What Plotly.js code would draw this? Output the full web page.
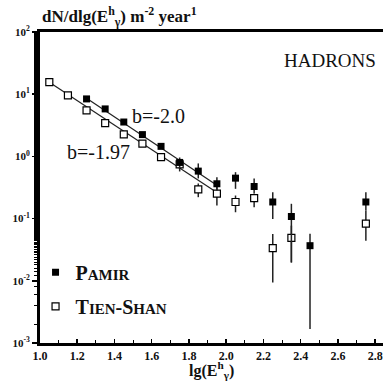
<!DOCTYPE html>
<html>
<head>
<meta charset="utf-8">
<script src="https://cdn.plot.ly/plotly-3.0.1.min.js"></script>
<style>
  html, body { margin: 0; padding: 0; background: #fff; }
  #chart { width: 383px; height: 382px; }
</style>
</head>
<body>
<div id="chart"></div>
<script>
// Hadron spectra, lg(E) bins
const pamirX  = [1.25, 1.35, 1.45, 1.55, 1.65, 1.75, 1.85, 1.95, 2.05, 2.15, 2.25, 2.35, 2.45, 2.75];
const pamirY  = [8.4, 5.8, 3.57, 2.24, 1.45, 0.80, 0.58, 0.363, 0.447, 0.328, 0.185, 0.108, 0.0367, 0.185];
const pamirHi = [null, null, null, null, null, 0.96, 0.771, 0.463, 0.558, 0.442, 0.265, 0.173, 0.0573, 0.265];
const pamirLo = [null, null, null, null, null, 0.64, 0.442, 0.283, 0.301, 0.253, 0.0989, 0.0197, 0.00168, 0.1346];

const tsX  = [1.05, 1.15, 1.25, 1.35, 1.45, 1.55, 1.65, 1.75, 1.85, 1.95, 2.05, 2.15, 2.25, 2.35, 2.75];
const tsY  = [15.6, 9.6, 5.5, 3.44, 2.26, 1.60, 0.975, 0.743, 0.294, 0.253, 0.185, 0.214, 0.0334, 0.0489, 0.083];
const tsHi = [null, null, null, null, null, null, null, 0.86, 0.367, 0.340, 0.235, 0.250, 0.0566, 0.077, 0.1346];
const tsLo = [null, null, null, null, null, null, null, 0.573, 0.221, 0.162, 0.1265, 0.152, 0.0094, 0.0197, 0.0442];

// Power-law fits: N(x) = N0 * 10^(b * (x - x0))
const pamirFitX = [1.25, 1.95];
const pamirFitN0 = 8.6;
const pamirB = -2.0;
const tsFitX = [1.05, 1.95];
const tsFitN0 = 15.6;
const tsB = -1.97;

// Axis ticks
const yTickVals = [0.001, 0.01, 0.1, 1, 10, 100];
const yTickText = ['10<sup>-3</sup>', '10<sup>-2</sup>', '10<sup>-1</sup>', '10<sup>0</sup>', '10<sup>1</sup>', '10<sup>2</sup>'];
const xTickVals = [1.0, 1.2, 1.4, 1.6, 1.8, 2.0, 2.2, 2.4, 2.6, 2.8];
const xTickText = ['1.0', '1.2', '1.4', '1.6', '1.8', '2.0', '2.2', '2.4', '2.6', '2.8'];

const SERIF = 'Times New Roman, Liberation Serif, DejaVu Serif, Noto Serif, serif';

function plus(y, hi) { return y.map((v, i) => hi[i] == null ? 0 : hi[i] - v); }
function minus(y, lo) { return y.map((v, i) => lo[i] == null ? 0 : v - lo[i]); }
function fitLine(xs, n0, b) { return xs.map(x => n0 * Math.pow(10, b * (x - xs[0]))); }

const errStyle = { type: 'data', symmetric: false, color: '#222', thickness: 1.5, width: 0 };

const traces = [
  {
    x: pamirFitX, y: fitLine(pamirFitX, pamirFitN0, pamirB),
    mode: 'lines', line: { color: '#222', width: 1.2 }, showlegend: false, hoverinfo: 'skip'
  },
  {
    x: tsFitX, y: fitLine(tsFitX, tsFitN0, tsB),
    mode: 'lines', line: { color: '#222', width: 1.2 }, showlegend: false, hoverinfo: 'skip'
  },
  {
    x: tsX, y: tsY, mode: 'markers',
    name: 'T<span style="font-size:15px">IEN</span>-S<span style="font-size:15px">HAN</span>',
    legendgroup: 'ts', legendrank: 2,
    marker: { symbol: 'square', size: 7, color: '#fff', line: { color: '#000', width: 1.2 } },
    error_y: Object.assign({ array: plus(tsY, tsHi), arrayminus: minus(tsY, tsLo) }, errStyle)
  },
  {
    x: pamirX, y: pamirY, mode: 'markers',
    name: 'P<span style="font-size:15px">AMIR</span>',
    legendgroup: 'pamir', legendrank: 1,
    marker: { symbol: 'square', size: 7, color: '#000', line: { color: '#000', width: 0 } },
    error_y: Object.assign({ array: plus(pamirY, pamirHi), arrayminus: minus(pamirY, pamirLo) }, errStyle)
  }
];

const layout = {
  width: 383, height: 382,
  margin: { l: 39.5, r: 0, t: 32, b: 39 },
  paper_bgcolor: '#fff', plot_bgcolor: '#fff',
  font: { family: SERIF, color: '#000' },
  showlegend: true,
  legend: {
    x: -0.013, y: 0.29, xanchor: 'left', yanchor: 'top',
    font: { family: SERIF, size: 20, weight: 'bold', color: '#111' },
    tracegroupgap: 5, bgcolor: 'rgba(0,0,0,0)', borderwidth: 0,
    traceorder: 'grouped'
  },
  xaxis: {
    range: [1.0, 2.842],
    tickmode: 'array', tickvals: xTickVals, ticktext: xTickText,
    ticklabeloverflow: 'allow',
    ticks: 'inside', ticklen: 4, tickwidth: 1.5, tickcolor: '#000',
    minor: { ticks: 'inside', dtick: 0.1, tick0: 1.0, ticklen: 3, tickwidth: 1, tickcolor: '#000', showgrid: false },
    showline: true, linecolor: '#000', linewidth: 3, mirror: true,
    showgrid: false, zeroline: false,
    tickfont: { family: SERIF, size: 12, weight: 'bold', color: '#111' }
  },
  yaxis: {
    type: 'log', range: [-3, 2],
    tickmode: 'array', tickvals: yTickVals, ticktext: yTickText,
    ticks: 'outside', ticklen: 5, tickwidth: 1.5, tickcolor: '#000',
    minor: { ticks: 'outside', ticklen: 3, tickwidth: 1, tickcolor: '#000', showgrid: false },
    showline: true, linecolor: '#000', linewidth: 3,
    showgrid: false, zeroline: false,
    tickfont: { family: SERIF, size: 11, weight: 'bold', color: '#111' },
    ticklabelstandoff: 0
  },
  annotations: [
    {
      xref: 'paper', yref: 'paper', x: 0.5, y: -0.088, xanchor: 'center', yanchor: 'middle',
      text: 'lg(E<sup>h</sup><sub>γ</sub>)', showarrow: false,
      font: { family: SERIF, size: 16, weight: 'bold', color: '#111' }
    },
    {
      xref: 'paper', yref: 'paper', x: 0, y: 1, xanchor: 'left', yanchor: 'bottom', yshift: 1,
      text: 'dN/dlg(E<sup>h</sup><sub>γ</sub>) m<sup>-2</sup> year<sup>1</sup>', showarrow: false,
      font: { family: SERIF, size: 17, weight: 'bold', color: '#111' }
    },
    {
      xref: 'paper', yref: 'paper', x: 0.9854, y: 0.907, xanchor: 'right', yanchor: 'middle',
      text: 'HADRONS', showarrow: false,
      font: { family: SERIF, size: 19, color: '#111' }
    },
    {
      xref: 'paper', yref: 'paper', x: 0.2635, y: 0.73, xanchor: 'left', yanchor: 'middle',
      text: 'b=-2.0', showarrow: false,
      font: { family: SERIF, size: 20, color: '#111' }
    },
    {
      xref: 'paper', yref: 'paper', x: 0.074, y: 0.614, xanchor: 'left', yanchor: 'middle',
      text: 'b=-1.97', showarrow: false,
      font: { family: SERIF, size: 20, color: '#111' }
    }
  ]
};

Plotly.newPlot('chart', traces, layout, { displayModeBar: false, staticPlot: true });
</script>
</body>
</html>
